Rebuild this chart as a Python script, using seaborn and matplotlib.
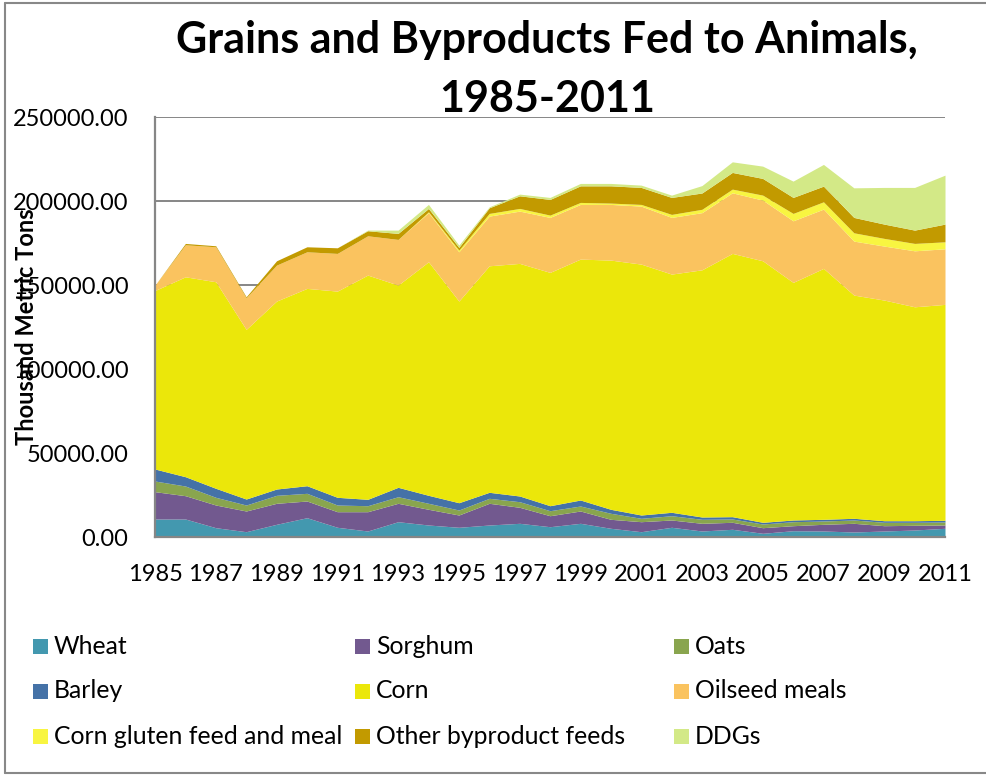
import matplotlib
matplotlib.use("Agg")
import matplotlib.pyplot as plt
from matplotlib.patches import Rectangle
from matplotlib.lines import Line2D
from matplotlib.ticker import FuncFormatter
import seaborn as sns

# Feed use by ingredient, thousand metric tons
years = list(range(1985, 2012))
wheat = [10880, 10880, 5710, 3330, 7730, 11650, 5950, 3750, 9280, 7310, 5950, 7310, 8320, 6300,
         8320, 5350, 3330, 5950, 3750, 4760, 2380, 3920, 3750, 3150, 3750, 4340, 5350]
sorghum = [16250, 13860, 13490, 12310, 12490, 9930, 9270, 11470, 10940, 9340, 7310, 12910, 9520, 6540,
           7320, 5350, 5950, 4340, 4570, 4160, 3330, 2980, 3980, 5170, 3150, 2800, 1960]
oats = [6350, 5760, 4580, 3560, 4750, 4580, 3980, 3570, 3920, 3570, 2970, 2970, 3330, 2980,
        2970, 3570, 2020, 2550, 2380, 1960, 2200, 2380, 1960, 1970, 2020, 1780, 1790]
barley = [7130, 5540, 5360, 3570, 3750, 4520, 4580, 3800, 5590, 4750, 4340, 3570, 3390, 2970,
          3570, 2380, 1960, 2030, 1370, 1390, 1010, 1010, 1010, 1010, 950, 950, 1010]
corn = [106190, 118910, 122860, 100900, 111780, 117370, 122660, 133380, 120290, 138910, 119930, 134740,
        138360, 138780, 143300, 148230, 149240, 141690, 147030, 156600, 155550, 141330, 149250, 132770,
        131230, 127240, 128430]
oilseed_meals = [3200, 19050, 20800, 18790, 21400, 21770, 22420, 23370, 27160, 29220, 29320, 29550,
                 31100, 32700, 32520, 33120, 34500, 33710, 34000, 36030, 36090, 36630, 35260, 32110,
                 32110, 33300, 33060]
corn_gluten = [0, 0, 0, 0, 0, 0, 0, 0, 0, 500, 1000, 1600, 1600, 1370, 1190, 800, 1000, 1790, 2000,
               2200, 2970, 4400, 4340, 4940, 4580, 4400, 4160]
other_byproducts = [0, 800, 600, 600, 2570, 2980, 3340, 3000, 3570, 2000, 1610, 3350, 7500, 9330, 9870,
                    10260, 10110, 10100, 9700, 9930, 9930, 9510, 9330, 9150, 8500, 7910, 10530]
ddgs = [0, 0, 0, 0, 0, 0, 0, 400, 1970, 2400, 1370, 580, 1010, 1190, 1430, 1430, 1370, 1370, 4400,
        6300, 7310, 9700, 12910, 17600, 21820, 25390, 29130]

labels = ["Wheat", "Sorghum", "Oats", "Barley", "Corn", "Oilseed meals",
          "Corn gluten feed and meal", "Other byproduct feeds", "DDGs"]
colors = ["#4398AF", "#72598F", "#89A54E", "#4572A7", "#EBE70A", "#FAC35F",
          "#F8F541", "#C29A00", "#D3E987"]
series = [wheat, sorghum, oats, barley, corn, oilseed_meals, corn_gluten, other_byproducts, ddgs]

sns.set_theme(style="white")
plt.rcParams["font.family"] = ["Lato", "DejaVu Sans"]

W, H = 987, 775
fig = plt.figure(figsize=(W / 100, H / 100), dpi=100)
left, right, top, bottom = 155, 945, 117, 537.3
ax = fig.add_axes([left / W, 1 - bottom / H, (right - left) / W, (bottom - top) / H])

ax.stackplot(years, *series, colors=colors, labels=labels, linewidth=0)

ax.set_xlim(1985, 2011)
ax.set_ylim(0, 250000)
ax.set_xticks(list(range(1985, 2012, 2)))
ax.set_yticks(list(range(0, 250001, 50000)))
ax.yaxis.set_major_formatter(FuncFormatter(lambda v, p: f"{v:.2f}"))
ax.tick_params(axis="both", length=0, labelsize=17, colors="black")
ax.tick_params(axis="y", pad=19)
ax.tick_params(axis="x", pad=19)

ax.set_axisbelow(True)
ax.yaxis.grid(True, color="#868686", linewidth=1.4)
ax.xaxis.grid(False)
for side in ("top", "right"):
    ax.spines[side].set_visible(False)
for side in ("left", "bottom"):
    ax.spines[side].set_color("#868686")
    ax.spines[side].set_linewidth(1.6)

# Title, two lines
fig.text(547 / W, 1 - 53 / H, "Grains and Byproducts Fed to Animals,", ha="center", va="baseline",
         fontsize=31, fontweight="bold", color="black")
fig.text(547 / W, 1 - 112 / H, "1985-2011", ha="center", va="baseline",
         fontsize=31, fontweight="bold", color="black")

# Axis title
fig.text(27 / W, 1 - 327 / H, "Thousand Metric Tons", rotation=90, ha="center", va="center",
         fontsize=17, fontweight="bold", color="black")

# Legend: 3 columns x 3 rows
col_x = [33, 355, 674]
row_y = [646, 691, 736]
for i, (lab, col) in enumerate(zip(labels, colors)):
    r, c = divmod(i, 3)
    x0, y0 = col_x[c], row_y[r]
    fig.add_artist(Rectangle((x0 / W, 1 - (y0 + 7.5) / H), 15 / W, 15 / H,
                             transform=fig.transFigure, facecolor=col, edgecolor="none"))
    fig.text((x0 + 21) / W, 1 - y0 / H, lab, ha="left", va="center", fontsize=17.8, color="black")

# Chart border
border = dict(color="#888888", linewidth=1.5, transform=fig.transFigure)
fig.add_artist(Line2D([5 / W, 1], [1 - 3 / H, 1 - 3 / H], **border))
fig.add_artist(Line2D([5 / W, 5 / W], [1 - 3 / H, 1 - 773 / H], **border))
fig.add_artist(Line2D([5 / W, 1], [1 - 773 / H, 1 - 773 / H], **border))

fig.savefig("out.png", dpi=100, facecolor="white")
